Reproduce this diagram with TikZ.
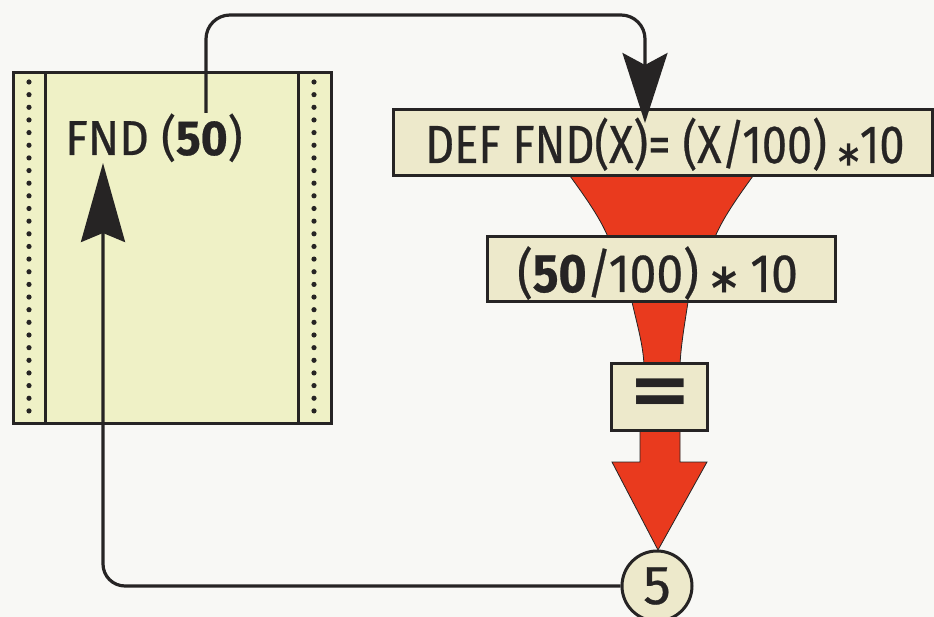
\documentclass[tikz,border=0pt]{standalone}
\usepackage{fontspec}
\usepackage{graphicx}
\setmainfont{Fira Sans}[FakeBold=0.5,BoldFeatures={FakeBold=0.5}]
\newfontfamily\eqfont{DejaVu Sans}
\usetikzlibrary{arrows.meta}
\definecolor{bg}{RGB}{248,248,245}
\definecolor{paperfill}{RGB}{239,241,198}
\definecolor{boxfill}{RGB}{237,233,203}
\definecolor{redfill}{RGB}{233,58,30}
\definecolor{ink}{RGB}{38,36,36}
\newcommand{\bigast}[1]{\raisebox{-0.3em}{\eqfont\bfseries\fontsize{#1}{#1}\selectfont *}}
\begin{document}
\begin{tikzpicture}[x=1pt,y=-1pt,
  outline/.style={draw=ink,line width=3pt},
  labelbox/.style={outline,fill=boxfill,rectangle,inner sep=0pt},
  conn/.style={draw=ink,line width=3.2pt},
  redshape/.style={fill=redfill,draw=ink,line width=0.8pt},
  lbl/.style={anchor=base west,inner sep=0pt,text=ink},
  dot/.style={fill=ink}
]
\useasboundingbox (0,0) rectangle (934,617);
\fill[bg] (0,0) rectangle (934,617);

% paper sheet
\node[outline,fill=paperfill,rectangle,inner sep=0pt,minimum width=318pt,minimum height=350pt] (paper) at (172,248) {};
\draw[ink,line width=3pt] (45,73) -- (45,423);
\draw[ink,line width=3pt] (298,73) -- (298,423);
\foreach \i in {0,...,26}{
  \fill[dot] (29,82+12.65*\i) circle (2.6pt);
  \fill[dot] (314,82+12.65*\i) circle (2.6pt);
}
\node[lbl] (fnd) at (65,155) {\fontsize{49}{50}\selectfont\scalebox{0.94}[1]{FND (\textbf{50})}};

% red funnels and arrow
\path[redshape] (570,176) .. controls (586,198) and (600,218) .. (608,237) -- (715,237) .. controls (723,218) and (737,198) .. (753,176) -- cycle;
\path[redshape] (632,302) .. controls (638,328) and (643,345) .. (644,365) -- (680,365) .. controls (681,345) and (684,328) .. (688,302) -- cycle;
\path[redshape] (640,428) -- (640,462) -- (612,462) -- (658,550) -- (707,462) -- (680,462) -- (680,428) -- cycle;

% boxes
\node[labelbox,minimum width=539pt,minimum height=66pt] (def) at (662.5,143) {};
\node[lbl] (deftext) at (425,163) {\fontsize{53.7}{56}\selectfont\scalebox{0.84}[1]{DEF FND(X)= (X/100) \bigast{48}10}};
\node[labelbox,minimum width=348pt,minimum height=65pt] (calc) at (661,269.5) {};
\node[lbl] (calctext) at (517,292) {\fontsize{54}{56}\selectfont\scalebox{0.89}[1]{(\textbf{50}/100) \bigast{56} 10}};
\node[labelbox,minimum width=96pt,minimum height=66pt] (eq) at (659,397) {};
\node[anchor=center,inner sep=0pt,text=ink] (eqtext) at (660,397) {\eqfont\bfseries\fontsize{76}{76}\selectfont =};
\node[outline,fill=boxfill,circle,inner sep=0pt,minimum size=70pt,text=ink,font=\fontsize{55}{55}\selectfont] (res) at (657,586) {5};

% connectors
\coordinate (s) at (206,113);
\coordinate (t) at (645,123);
\draw[conn,rounded corners=24pt,-{Stealth[length=70pt,width=45pt,inset=12pt]}] (s) -- ++(0,-98) -| (t);
\coordinate (lt) at (103,163);
\draw[conn,rounded corners=22pt,-{Stealth[length=79pt,width=44pt,inset=9pt]}] (res.west) -| (lt);
\end{tikzpicture}
\end{document}
